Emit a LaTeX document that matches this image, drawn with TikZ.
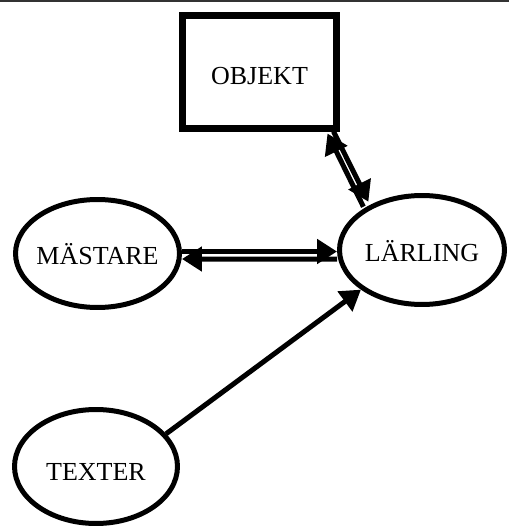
\documentclass[tikz,border=0pt]{standalone}
\usepackage{fontspec}
\setmainfont{Liberation Serif}
\usetikzlibrary{shapes.geometric, arrows.meta, calc}

\begin{document}
\begin{tikzpicture}[x=0.02cm, y=-0.02cm, >={Triangle[length=0.4cm, width=0.48cm]}, font=\fontsize{14.8}{17}\selectfont,
    roll/.style={draw, ellipse, line width=0.1cm, inner sep=0pt, text height=13pt, text depth=0pt},
    link/.style={->, line width=0.1cm}]
    \useasboundingbox (0,0) rectangle (509,530);
    \draw[line width=0.035cm, black!80] (0,1) -- (509,1);

    \node[draw, line width=0.14cm, minimum width=3.1cm, minimum height=2.28cm, text height=14.4pt, text depth=0pt] (objekt) at (259.5,72) {OBJEKT};
    \node[roll, minimum width=3.28cm, minimum height=2.16cm] (mastare) at (97.5,253.5) {\makebox[0pt]{MÄSTARE}};
    \node[roll, minimum width=3.3cm, minimum height=2.18cm] (larling) at (422,250) {\makebox[0pt]{LÄRLING}};
    \node[roll, minimum width=3.26cm, minimum height=2.28cm, text height=16pt] (texter) at (96,466.5) {\makebox[0pt]{TEXTER}};

    \draw[link] ($(mastare.east)+(0,-2)$) -- ($(larling.west)+(0,1.5)$);
    \draw[link] ($(larling.west)+(0,9)$) -- ($(mastare.east)+(0,5.5)$);
    \draw[link] ($(larling.137)+(-9,3)$) -- ($(objekt.south east)+(-13,1)$);
    \draw[link] ($(objekt.south east)+(-7,-1)$) -- ($(larling.137)+(-4,-2)$);
    \draw[link] (texter.25) -- (larling.213);
\end{tikzpicture}
\end{document}
